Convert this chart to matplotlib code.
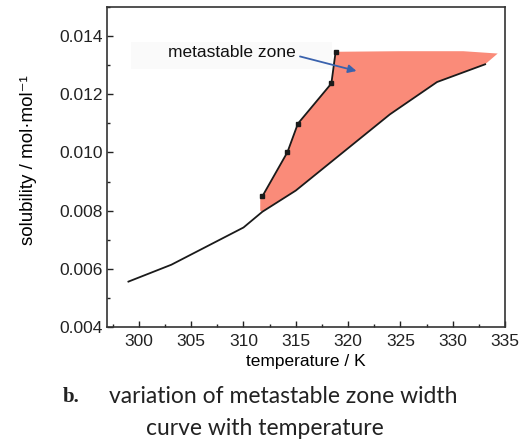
import matplotlib
matplotlib.use("Agg")
import matplotlib.pyplot as plt
from matplotlib.patches import Rectangle
from matplotlib.ticker import MultipleLocator

# solubility curve (lower line)
sol_T = [299.0, 303.1, 310.0, 311.8, 315.0, 324.0, 328.5, 333.1]
sol_y = [0.00556, 0.00614, 0.00742, 0.00796, 0.00869, 0.01131, 0.01242, 0.01303]

# metastable limit (upper line with points)
meta_T = [311.8, 314.2, 315.2, 318.4, 318.8]
meta_y = [0.00849, 0.01001, 0.01099, 0.01237, 0.01344]

# outline of the shaded zone
zone_T = [311.6, 311.6, 311.8, 314.2, 315.2, 318.4, 318.8, 325.0, 331.0, 334.3,
          333.1, 328.5, 324.0, 315.0, 311.8]
zone_y = [0.00800, 0.00849, 0.00849, 0.01001, 0.01099, 0.01237, 0.01346, 0.01348,
          0.01348, 0.01340, 0.01303, 0.01242, 0.01131, 0.00869, 0.00796]

x_ticks = [300, 305, 310, 315, 320, 325, 330, 335]
y_ticks = [0.004, 0.006, 0.008, 0.010, 0.012, 0.014]

plt.rcParams['font.family'] = ['Liberation Sans', 'DejaVu Sans']

fig = plt.figure(figsize=(5.25, 4.45), dpi=100)
ax = fig.add_axes([0.2038, 0.2652, 0.7581, 0.7191])

ax.fill(zone_T, zone_y, color='#fa8b79', lw=0, zorder=1)
ax.plot(sol_T, sol_y, color='#1a1a1a', lw=1.3, zorder=3)
ax.plot(meta_T, meta_y, color='#1a1a1a', lw=1.3, marker='s', ms=3, zorder=3)

# faint grey strip behind the label
ax.add_patch(Rectangle((299.2, 0.01288), 19.3, 0.00093, color='#fafafa', lw=0, zorder=0))
ax.text(308.9, 0.01343, 'metastable zone', ha='center', va='center',
        fontsize=12.5, color='#111111', zorder=4)
ax.annotate('', xy=(320.8, 0.01280), xytext=(315.4, 0.01330), zorder=4,
            arrowprops=dict(arrowstyle='-|>', color='#3a62ad', lw=1.3,
                            shrinkA=0, shrinkB=0, mutation_scale=12))

ax.set_xlim(296.95, 335)
ax.set_ylim(0.004, 0.015)
ax.set_xticks(x_ticks)
ax.set_yticks(y_ticks)
ax.set_xticklabels([str(t) for t in x_ticks])
ax.set_yticklabels(['%.3f' % t for t in y_ticks])
ax.xaxis.set_minor_locator(MultipleLocator(2.5))
ax.yaxis.set_minor_locator(MultipleLocator(0.001))
ax.tick_params(which='both', direction='in', labelsize=12.5, colors='#222222',
               top=False, right=False)
ax.tick_params(axis='x', pad=5)
ax.tick_params(axis='y', pad=3)
ax.tick_params(which='major', length=4, width=1)
ax.tick_params(which='minor', length=2.5, width=1)
for s in ax.spines.values():
    s.set_linewidth(1.2)
    s.set_color('#333333')

ax.set_xlabel('temperature / K', fontsize=12.5, labelpad=4)
ax.set_ylabel('solubility / mol·mol⁻¹', fontsize=13.5)
ax.yaxis.set_label_coords(-0.177, 0.52)

fig.text(0.12, 0.108, 'b.', fontsize=15, fontweight='bold', family='Liberation Serif',
         ha='left', va='center', color='#222222')
fig.text(0.207, 0.108, 'variation of metastable zone width', fontsize=16.5,
         family='Lato', ha='left', va='center', color='#222222')
fig.text(0.505, 0.038, 'curve with temperature', fontsize=16.5,
         family='Lato', ha='center', va='center', color='#222222')

fig.savefig('out.png', dpi=100)
